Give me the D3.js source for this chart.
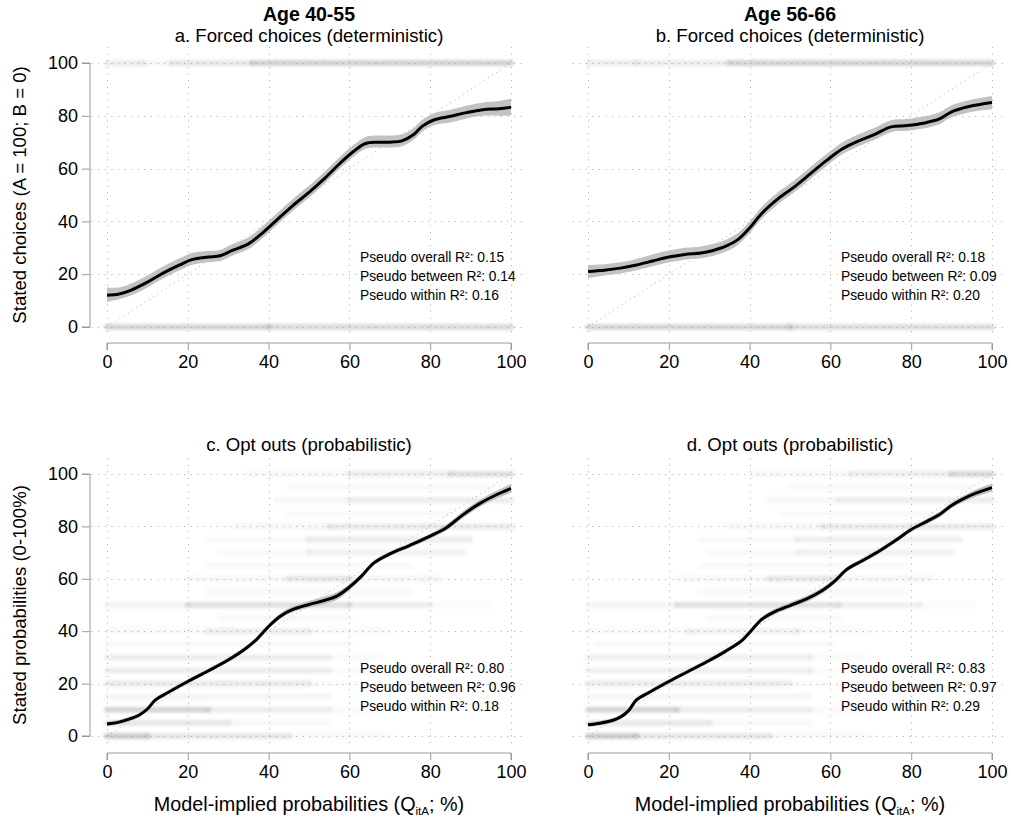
<!DOCTYPE html>
<html>
<head>
<meta charset="utf-8">
<script src="https://cdn.jsdelivr.net/npm/d3@7/dist/d3.min.js"></script>
<style>
  html, body { margin: 0; padding: 0; background: #fff; }
  svg { display: block; font-family: "Liberation Sans", Arial, Helvetica, sans-serif; }
</style>
</head>
<body>
<svg id="chart" width="1011" height="821"></svg>
<script>
// ---- Axis ticks -------------------------------------------------------
const xTicks = [0, 20, 40, 60, 80, 100];
const yTicks = [0, 20, 40, 60, 80, 100];

// ---- Titles -----------------------------------------------------------
const groupTitles = ["Age 40-55", "Age 56-66"];
const panelTitles = [
  "a. Forced choices (deterministic)",
  "b. Forced choices (deterministic)",
  "c. Opt outs (probabilistic)",
  "d. Opt outs (probabilistic)"
];
const yTitles = ["Stated choices (A = 100; B = 0)", "Stated probabilities (0-100%)"];

// ---- Fit statistics ---------------------------------------------------
const r2Overall = ["0.15", "0.18", "0.80", "0.83"];
const r2Between = ["0.14", "0.09", "0.96", "0.97"];
const r2Within  = ["0.16", "0.20", "0.18", "0.29"];

// ---- Smoothed fits: [x, fit, lower, upper] ----------------------------
const fitA = [
  [0,12,9.5,15],[3,12.5,10.5,15],[6,14,12,16.5],[10,17,15,19.5],[14,20.5,18.5,23],[18,23.5,21.5,26],
  [21,25.5,23.5,28],[25,26.5,24.5,28.8],[28,27,25,29.2],[31,29,27,31.3],[35,31.5,29.5,34],
  [38,35,33,37.5],[42,40.5,38.5,43],[46,46,44,48.5],[50,51,49,53.5],[54,56.5,54.5,59],
  [58,62.5,60.5,65],[61,66.5,64.5,69],[64,69.5,67.5,72],[67,70,68,72.5],[70,70,68,72.5],
  [73,70.5,68.5,73],[76,73,71,75.5],[78,76,74,78.5],[81,78.5,76.5,81],[85,79.8,77.5,82.3],
  [89,81.2,79,83.8],[93,82.3,80,85],[97,82.7,80,85.6],[100,83.2,80,86.5]
];
const fitB = [
  [0,21,18.5,23.5],[4,21.5,19.5,23.8],[8,22.3,20.3,24.5],[12,23.5,21.5,25.8],[16,25,23,27.5],
  [20,26.5,24.5,29],[24,27.5,25.5,30],[28,28,26,30.5],[31,29,27,31.5],[34,30.5,28.5,33],
  [37,33,31,35.5],[40,37.5,35.5,40],[43,43,41,45.5],[47,48.5,46.5,51],[51,53,51,55.5],
  [55,58,56,60.5],[59,63,61,65.5],[63,67.5,65.5,70],[67,70.5,68.5,73],[71,73,71,75.5],
  [75,75.8,73.8,78.3],[79,76.3,74.3,78.8],[83,77.2,75.2,79.7],[87,78.8,76.8,81.3],
  [90,81.5,79.5,84],[94,83.4,81.2,85.8],[97,84.3,82,86.7],[100,85,82.5,87.5]
];
const fitC = [
  [0,4.6,3.8,5.6],[3,5.3,4.5,6.2],[6,6.7,5.9,7.6],[8,8,7.2,8.9],[10,10.3,9.5,11.2],[12,13.8,13,14.7],
  [15,16.5,15.7,17.4],[20,20.8,20,21.7],[25,24.8,24,25.7],[30,29,28.2,29.9],[34,33,32.2,33.9],
  [37,36.8,36,37.7],[40,41.8,41,42.8],[43,45.8,44.8,46.9],[46,48.3,47.2,49.5],[50,50.2,49,51.5],
  [54,51.8,50.4,53.3],[57,53.5,52,55],[60,56.8,55.6,58],[63,61,60,62],[66,66,65.1,66.9],
  [70,69.5,68.6,70.4],[75,72.8,71.9,73.7],[80,76.3,75.3,77.3],[84,79.5,78.4,80.7],
  [88,84.3,83.1,85.6],[92,88.5,87.2,89.9],[96,91.8,90.3,93.3],[100,94.5,92.8,96.2]
];
const fitD = [
  [0,4.3,3.5,5.2],[3,4.9,4.1,5.8],[6,5.9,5.1,6.8],[8,7.2,6.4,8.1],[10,9.6,8.8,10.5],[12,13.8,13,14.7],
  [15,16.5,15.7,17.4],[20,20.8,20,21.7],[25,24.8,24,25.7],[30,28.8,28,29.7],[34,32.3,31.5,33.2],
  [38,36.3,35.5,37.2],[40,39.5,38.7,40.4],[43,44.5,43.6,45.5],[46,47.3,46.3,48.4],[50,49.8,48.8,51],
  [54,52.2,51.1,53.4],[58,55.5,54.4,56.7],[61,59,58,60],[64,63.5,62.6,64.4],[68,67,66.1,67.9],
  [72,70.5,69.6,71.4],[76,74.5,73.6,75.4],[80,78.8,77.9,79.7],[84,82,81,83],[87,84.5,83.4,85.6],
  [90,88,86.9,89.2],[93,90.6,89.4,91.8],[96,92.7,91.3,94.1],[100,94.8,93.2,96.4]
];

// ---- Stated responses: rows of [stated value, [from x, to x, density]...] ----
const rowsA = [
  [100, [[0,9,0.22],[9,16,0.1],[16,36,0.25],[36,100,0.48]]],
  [0,   [[0,40,0.45],[40,100,0.4]]]
];
const rowsB = [
  [100, [[0,12,0.2],[12,35,0.22],[35,100,0.46]]],
  [0,   [[0,50,0.45],[50,100,0.38]]]
];
const rowsC = [
  [100, [[35,60,0.08],[60,85,0.2],[85,100,0.34]]],
  [95,  [[45,95,0.07]]],
  [90,  [[42,60,0.1],[60,100,0.2]]],
  [85,  [[45,85,0.07]]],
  [80,  [[32,55,0.1],[55,100,0.25]]],
  [75,  [[25,50,0.08],[50,90,0.2]]],
  [70,  [[28,50,0.08],[50,88,0.16]]],
  [65,  [[25,75,0.07]]],
  [60,  [[20,45,0.1],[45,60,0.28],[60,82,0.12]]],
  [55,  [[25,75,0.08]]],
  [50,  [[0,20,0.12],[20,60,0.34],[60,80,0.2],[80,95,0.06]]],
  [45,  [[28,60,0.08]]],
  [40,  [[0,25,0.08],[25,50,0.2],[50,70,0.08]]],
  [35,  [[0,60,0.08]]],
  [30,  [[0,55,0.2],[55,68,0.06]]],
  [25,  [[0,55,0.2],[55,68,0.06]]],
  [20,  [[0,50,0.24],[50,62,0.06]]],
  [15,  [[0,55,0.11]]],
  [10,  [[0,25,0.45],[25,55,0.2],[55,70,0.06]]],
  [5,   [[0,30,0.26],[30,55,0.08]]],
  [0,   [[0,10,0.55],[10,45,0.26],[45,70,0.08]]]
];
const rowsD = [
  [100, [[40,65,0.08],[65,90,0.2],[90,100,0.42]]],
  [95,  [[50,95,0.07]]],
  [90,  [[45,62,0.1],[62,100,0.2]]],
  [85,  [[48,88,0.07]]],
  [80,  [[35,58,0.1],[58,100,0.25]]],
  [75,  [[28,52,0.08],[52,92,0.18]]],
  [70,  [[30,52,0.08],[52,90,0.16]]],
  [65,  [[28,78,0.07]]],
  [60,  [[22,45,0.1],[45,62,0.26],[62,85,0.12]]],
  [55,  [[28,78,0.08]]],
  [50,  [[0,22,0.12],[22,62,0.32],[62,82,0.18],[82,95,0.06]]],
  [45,  [[30,62,0.08]]],
  [40,  [[0,25,0.08],[25,52,0.18],[52,70,0.08]]],
  [35,  [[2,60,0.08]]],
  [30,  [[0,55,0.18],[55,68,0.06]]],
  [25,  [[0,55,0.18],[55,68,0.06]]],
  [20,  [[0,50,0.22],[50,62,0.06]]],
  [15,  [[0,55,0.1]]],
  [10,  [[0,22,0.45],[22,55,0.2],[55,70,0.06]]],
  [5,   [[0,30,0.24],[30,55,0.08]]],
  [0,   [[0,12,0.55],[12,45,0.26],[45,70,0.08]]]
];

// ---- Panel frames (pixel ranges for 0..100 on each axis) ---------------
const panels = [
  { title: panelTitles[0], group: groupTitles[0], fit: fitA, rows: rowsA, px: [107, 511], py: [327, 63], left: true,  bottom: false, yTitle: yTitles[0], k: 0 },
  { title: panelTitles[1], group: groupTitles[1], fit: fitB, rows: rowsB, px: [588, 992], py: [327, 63], left: false, bottom: false, k: 1 },
  { title: panelTitles[2], fit: fitC, rows: rowsC, px: [107, 511], py: [736, 474], left: true,  bottom: true, yTitle: yTitles[1], k: 2 },
  { title: panelTitles[3], fit: fitD, rows: rowsD, px: [588, 992], py: [736, 474], left: false, bottom: true, k: 3 }
];

const svg = d3.select("#chart");
const defs = svg.append("defs");
defs.append("filter").attr("id", "soft")
  .attr("x", "-5%").attr("y", "-100%").attr("width", "110%").attr("height", "300%")
  .append("feGaussianBlur").attr("stdDeviation", 1.7);

const gridColor = "#a8a8a8";
const axisColor = "#9a9a9a";
const tickFont = 18;

panels.forEach(p => {
  const x = d3.scaleLinear().domain([0, 100]).range(p.px);
  const y = d3.scaleLinear().domain([0, 100]).range(p.py);
  const g = svg.append("g");
  const cx = (p.px[0] + p.px[1]) / 2;

  // titles
  if (p.group) {
    g.append("text").attr("x", cx).attr("y", 21).attr("text-anchor", "middle")
      .attr("font-size", 19.5).attr("font-weight", "bold").attr("fill", "#000").text(p.group);
  }
  g.append("text").attr("x", cx).attr("y", p.bottom ? 451 : 42).attr("text-anchor", "middle")
    .attr("font-size", 18.6).attr("fill", "#000").text(p.title);

  // dotted grid
  const grid = g.append("g").attr("stroke", gridColor).attr("stroke-width", 1)
    .attr("stroke-dasharray", "1 5.6").attr("fill", "none");
  grid.selectAll(".h").data(yTicks).join("line")
    .attr("x1", x(-3.8)).attr("x2", x(103.8))
    .attr("y1", d => Math.round(y(d)) + 0.5).attr("y2", d => Math.round(y(d)) + 0.5);
  grid.selectAll(".v").data(xTicks).join("line")
    .attr("x1", d => Math.round(x(d)) + 0.5).attr("x2", d => Math.round(x(d)) + 0.5)
    .attr("y1", y(106)).attr("y2", y(-3.5));

  // stated-response density streaks
  const streaks = g.append("g").attr("filter", "url(#soft)");
  p.rows.forEach(([val, segs]) => {
    streaks.selectAll(null).data(segs).join("line")
      .attr("x1", d => x(d[0])).attr("x2", d => x(d[1]))
      .attr("y1", y(val)).attr("y2", y(val))
      .attr("stroke", "#a4a4a4").attr("stroke-opacity", d => d[2])
      .attr("stroke-width", 6).attr("stroke-linecap", "round");
  });

  // 45-degree reference line
  g.append("line")
    .attr("x1", x(0)).attr("y1", y(0)).attr("x2", x(100)).attr("y2", y(100))
    .attr("stroke", "#b0b0b0").attr("stroke-width", 1).attr("stroke-dasharray", "1 4");

  // confidence band and fitted curve
  const area = d3.area().x(d => x(d[0])).y0(d => y(d[2])).y1(d => y(d[3])).curve(d3.curveCatmullRom);
  g.append("path").datum(p.fit).attr("d", area).attr("fill", "#c2c2c2");
  const line = d3.line().x(d => x(d[0])).y(d => y(d[1])).curve(d3.curveCatmullRom);
  g.append("path").datum(p.fit).attr("d", line)
    .attr("fill", "none").attr("stroke", "#000").attr("stroke-width", 3).attr("stroke-linejoin", "round");

  // fit statistics
  const ax = x(0) + 253;
  const ay = p.bottom ? 673 : 262;
  const stats = [
    "Pseudo overall R²: " + r2Overall[p.k],
    "Pseudo between R²: " + r2Between[p.k],
    "Pseudo within R²: " + r2Within[p.k]
  ];
  g.selectAll(null).data(stats).join("text")
    .attr("x", ax).attr("y", (d, i) => ay + i * 19)
    .attr("font-size", 13.8).attr("fill", "#000").text(d => d);

  // x axis (offset below the plot)
  const xAxisY = p.bottom ? 753 : 343;
  const xa = g.append("g").attr("transform", `translate(0,${xAxisY})`)
    .call(d3.axisBottom(x).tickValues(xTicks).tickSize(7).tickPadding(5));
  xa.select(".domain").attr("stroke", axisColor).attr("d", `M${x(0)},7V0H${x(100)}V7`);
  xa.selectAll(".tick line").attr("stroke", axisColor);
  xa.selectAll(".tick text").attr("font-size", tickFont).attr("fill", "#000")
    .attr("font-family", "Liberation Sans, Arial, sans-serif");

  if (p.bottom) {
    const t = g.append("text").attr("x", cx).attr("y", 811).attr("text-anchor", "middle")
      .attr("font-size", 19.8).attr("fill", "#000");
    t.append("tspan").text("Model-implied probabilities (Q");
    t.append("tspan").attr("font-size", 11.5).attr("dy", 4).text("itA");
    t.append("tspan").attr("dy", -4).text("; %)");
  }

  // y axis (left column only)
  if (p.left) {
    const ya = g.append("g").attr("transform", "translate(90,0)")
      .call(d3.axisLeft(y).tickValues(yTicks).tickSize(8).tickPadding(4));
    ya.select(".domain").attr("stroke", axisColor).attr("d", `M-8,${y(100)}H0V${y(0)}H-8`);
    ya.selectAll(".tick line").attr("stroke", axisColor);
    ya.selectAll(".tick text").attr("font-size", tickFont).attr("fill", "#000")
      .attr("font-family", "Liberation Sans, Arial, sans-serif");
    const ym = (p.py[0] + p.py[1]) / 2;
    g.append("text").attr("transform", `translate(26,${ym}) rotate(-90)`)
      .attr("text-anchor", "middle").attr("font-size", 18.6).attr("fill", "#000").text(p.yTitle);
  }
});
</script>
</body>
</html>
